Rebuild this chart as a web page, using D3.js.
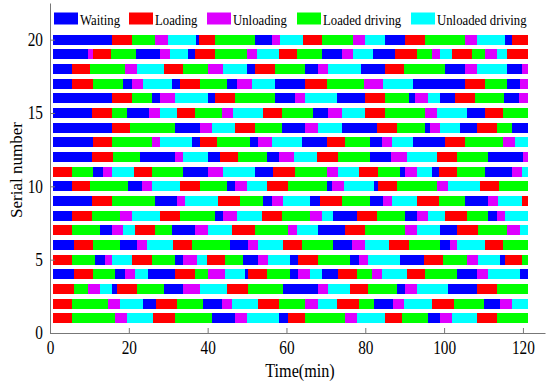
<!DOCTYPE html>
<html>
<head>
<meta charset="utf-8">
<script src="https://cdn.jsdelivr.net/npm/d3@7"></script>
<style>
    body { margin: 0; background: #fff; }
    svg { font-family: "Liberation Serif", "Times New Roman", serif; }
</style>
</head>
<body>
<svg id="chart" width="550" height="385"></svg>
<script>
// states of the machines, legend order
const stateCodes = ["W", "L", "U", "D", "E"];
const stateNames = ["Waiting", "Loading", "Unloading", "Loaded driving", "Unloaded driving"];
const stateColors = ["#0000ff", "#ff0000", "#dd00ff", "#00ff00", "#00ffff"];

const xTicks = [0, 20, 40, 60, 80, 100, 120];
const yTicks = [0, 5, 10, 15, 20];

const START_TIME = 0.85; // every machine starts here (min)

// one string per serial number, "state:end time"
const schedule = {
    20: "W:15.7 L:20.7 D:26.6 U:30 E:37 W:37.8 L:41.9 D:52 W:56.3 U:58.4 E:64.3 L:69 D:77 U:80 E:85 W:90 L:95.2 D:105.3 U:108.3 E:115.5 W:117.2 L:121.4",
    19: "W:9.7 U:11 L:15.6 D:21.7 W:27.9 U:30.5 E:35 W:36.8 L:41.9 D:49.9 U:52.4 E:58 L:62.6 D:69 W:74 U:77 E:82 W:87.5 L:93 D:96.9 U:99 E:102 L:107 D:110.4 U:113.4 E:116 L:121.4",
    18: "W:5.5 L:10.2 D:19 U:22 E:28.8 L:33.8 D:40.2 U:44 E:49.9 W:52 L:57.1 D:64.7 W:68 U:70.6 E:79 W:85 L:89.7 D:100.2 W:105.3 U:108.3 E:116 W:119.7 U:121.4",
    17: "W:5.5 L:11 D:18.6 W:20.7 U:23.7 E:30.9 W:33 L:38 D:44.8 W:47.5 U:51.2 E:57 W:64.7 L:70.2 D:79.8 U:84.6 E:92.2 W:105.3 L:110.4 D:116 W:119.3 U:121.4",
    16: "W:15.7 L:20.7 D:25.8 W:27.9 U:31.7 E:40.2 W:41.9 L:47 D:57.1 W:62.2 U:64.7 E:72.8 W:80 L:85 D:91 W:92.6 U:96 E:99 W:102.8 L:107.9 D:115.1 W:118.9 U:121.4",
    15: "W:10.6 L:15.7 D:19.5 W:25 U:27.9 E:32.1 L:36.8 D:43.6 U:46.5 E:54.1 L:58.8 D:66.8 W:70.6 U:74 E:80 L:85 D:95.2 U:98.1 E:105.8 W:110.4 L:115 D:121.4",
    14: "W:15.7 L:20.3 D:31.7 W:38 U:41 E:47 L:52 D:58.8 W:64.7 U:68 E:74 W:82.9 L:88 D:95.2 W:96.4 U:99 E:104.1 W:108.3 L:113.4 D:117.2 W:121.4",
    13: "W:11 L:15.7 D:25.8 U:27.9 E:36 W:38 L:42.3 D:50.8 W:52.9 U:56.3 E:64 W:70.2 L:74.9 D:81.2 W:84.2 U:86.8 E:92.2 W:100.2 L:105.3 D:115 U:118 E:121.4",
    12: "W:10.6 L:16.1 D:22.8 W:31.7 U:33.8 E:40.2 W:43.1 L:47.8 D:55 W:58 U:61.8 E:67.7 L:73.2 D:81.2 W:86.6 U:90.5 E:98.1 L:103.2 D:111.2 W:120.1 U:121.4",
    11: "L:5.5 D:11 W:13.5 U:15.7 E:21.2 L:25.8 D:33.8 W:40.2 U:44 E:52 W:56.7 L:62.2 D:70.2 U:73.2 E:78.3 L:83.3 D:88.8 W:90 U:93 E:96.9 W:98.6 L:103.2 D:110.4 W:117.2 U:119.7 E:121.4",
    10: "W:5.5 L:10.2 D:19.9 W:23.3 U:25.8 E:33 L:38 D:44.8 W:47 U:49.9 E:55 L:60.5 D:70.2 W:71.5 U:74.5 E:82.1 W:83.3 L:88 D:98.1 U:101 E:109 L:114 D:121.4",
    9:  "W:10.6 L:15.7 D:26.6 W:32.1 U:34.3 E:42.7 L:48.2 D:54.1 W:56.3 U:59.2 E:66 W:68.5 L:74 D:81.2 W:84.6 U:86.7 E:93 L:98.6 D:105.3 W:111.2 U:113.8 E:119.7 L:121.4",
    8:  "W:5.5 L:10.6 D:17.8 U:20.7 E:27.9 L:33 D:41.9 W:44 U:47.4 E:53.7 L:58.8 D:66 U:69 E:71.9 W:77.8 L:83 D:90.1 W:93 U:96 E:100.2 L:105.8 D:111.2 W:113.4 U:115.5 E:121.4",
    7:  "L:5.5 D:12.7 W:15.7 U:18.6 E:21.6 L:26.6 D:30.9 W:36.8 U:40.2 E:46.1 L:52 D:60.5 U:62.6 E:68.1 W:74.9 L:80 D:90.1 U:93 E:99 W:103.2 L:108.7 D:116 U:119.3 E:121.4",
    6:  "W:6 L:11 D:17.8 W:22 U:24.5 E:31.3 L:36 D:45.7 W:50.3 U:52.9 E:59.2 L:64 D:71.9 W:76.6 U:80 E:85.9 L:91 D:99 W:101.5 U:103.2 E:110.4 L:115 D:121.4",
    5:  "L:5.5 D:11.4 W:14 U:15.7 E:20.7 L:25.8 D:31.7 W:33.8 U:37.2 E:39.8 L:44.4 D:49 W:52.9 U:55.4 E:60.9 W:63 L:68 D:76.1 W:78.3 U:80.8 E:88.8 W:94.8 L:99.8 D:105.8 U:108.7 E:114.2 W:115.5 L:119.7 D:121.4",
    4:  "W:6 L:11 D:16.5 W:19 U:21.6 E:24.8 W:31.7 L:36.8 D:40.2 U:44.4 E:49.5 W:50.3 L:55 D:60.9 W:63 U:66 E:69 W:73.2 L:77.8 D:81.7 U:84.2 E:90.5 L:95.2 D:103.2 W:108.3 U:111.2 E:119.3 W:121.4",
    3:  "L:6 D:9.7 U:12.7 E:15.7 W:16.9 L:22 D:28.8 W:33.8 U:38 E:44.8 L:50.3 D:59.2 W:68.1 U:70.6 E:76.1 L:80.8 D:88 W:90.1 U:93 E:101 W:108.3 L:113.4 D:121.4",
    2:  "L:5.5 D:14.8 U:17.8 E:23.7 W:27 L:32.1 D:38.9 W:43.6 U:46.1 E:52.9 L:58 D:64.7 U:68 E:72.8 L:78.3 D:82.1 W:87.1 U:89.7 E:96.9 L:102.4 D:110 W:114.2 U:117.2 E:121.4",
    1:  "L:5.5 D:16.5 U:19.5 E:26.2 L:31.7 D:41 W:47 U:49.9 E:58 W:60.5 L:64.7 D:74.9 U:77.8 E:85 L:89.2 D:96 W:99 U:102 E:108.3 L:113.4 D:121.4"
};

// turn the strings into segments
function parseRow(serial, text) {
    let segs = [];
    let start = START_TIME;
    text.trim().split(/\s+/).forEach(tok => {
        let parts = tok.split(":");
        let end = parseFloat(parts[1]);
        segs.push({ serial: serial, state: parts[0], start: start, end: end });
        start = end;
    });
    return segs;
}
let segments = [];
Object.keys(schedule).forEach(k => {
    segments = segments.concat(parseRow(+k, schedule[k]));
});

const color = d3.scaleOrdinal().domain(stateCodes).range(stateColors);

const svg = d3.select("#chart");
const x = d3.scaleLinear().domain([0, 125.6]).range([50, 545]);
const y = d3.scaleLinear().domain([0, 22.5]).range([333, 3]);
const BAR_HALF = 0.35;

// picture is squeezed a bit horizontally, squeeze the text the same way
const SQUEEZE = 0.85;
function squeeze(sel) {
    sel.each(function () {
        let w = this.getComputedTextLength();
        this.setAttribute("textLength", w * SQUEEZE);
        this.setAttribute("lengthAdjust", "spacingAndGlyphs");
    });
}

// bars
svg.append("g")
    .selectAll("rect")
    .data(segments)
    .enter()
    .append("rect")
    .attr("x", d => x(d.start))
    .attr("y", d => y(d.serial + BAR_HALF))
    .attr("width", d => x(d.end) - x(d.start))
    .attr("height", d => y(d.serial - BAR_HALF) - y(d.serial + BAR_HALF))
    .attr("fill", d => color(d.state))
    .attr("shape-rendering", "crispEdges");

// axes, ticks point inward
let xAxis = svg.append("g")
    .attr("transform", "translate(0," + y(0) + ")")
    .call(d3.axisBottom(x).tickValues(xTicks).tickSizeInner(-5).tickSizeOuter(0).tickPadding(8));
let yAxis = svg.append("g")
    .attr("transform", "translate(" + x(0) + ",0)")
    .call(d3.axisLeft(y).tickValues(yTicks).tickSizeInner(-5).tickSizeOuter(0).tickPadding(7));

[xAxis, yAxis].forEach(ax => {
    ax.select(".domain").attr("stroke", "#777");
    ax.selectAll(".tick line").attr("stroke", "#777");
    ax.selectAll("text")
        .attr("fill", "#000")
        .style("font-family", "'Liberation Serif', serif")
        .style("font-size", "18px");
    squeeze(ax.selectAll("text"));
});

// axis titles
svg.append("text")
    .attr("x", 300)
    .attr("y", 377)
    .attr("text-anchor", "middle")
    .style("font-size", "19px")
    .text("Time(min)")
    .call(squeeze);

svg.append("text")
    .attr("transform", "translate(22,170) rotate(-90)")
    .attr("text-anchor", "middle")
    .style("font-size", "17px")
    .text("Serial number");

// legend along the top
const legendX = [54, 129, 207, 297, 411];
let legend = svg.selectAll(".legend")
    .data(stateCodes)
    .enter()
    .append("g")
    .attr("class", "legend")
    .attr("transform", (d, i) => "translate(" + legendX[i] + ",0)");

legend.append("rect")
    .attr("x", 0)
    .attr("y", 12.5)
    .attr("width", 24)
    .attr("height", 12)
    .attr("fill", d => color(d));

legend.append("text")
    .attr("x", 26)
    .attr("y", 24.5)
    .style("font-size", "15px")
    .text((d, i) => stateNames[i])
    .call(squeeze);
</script>
</body>
</html>
